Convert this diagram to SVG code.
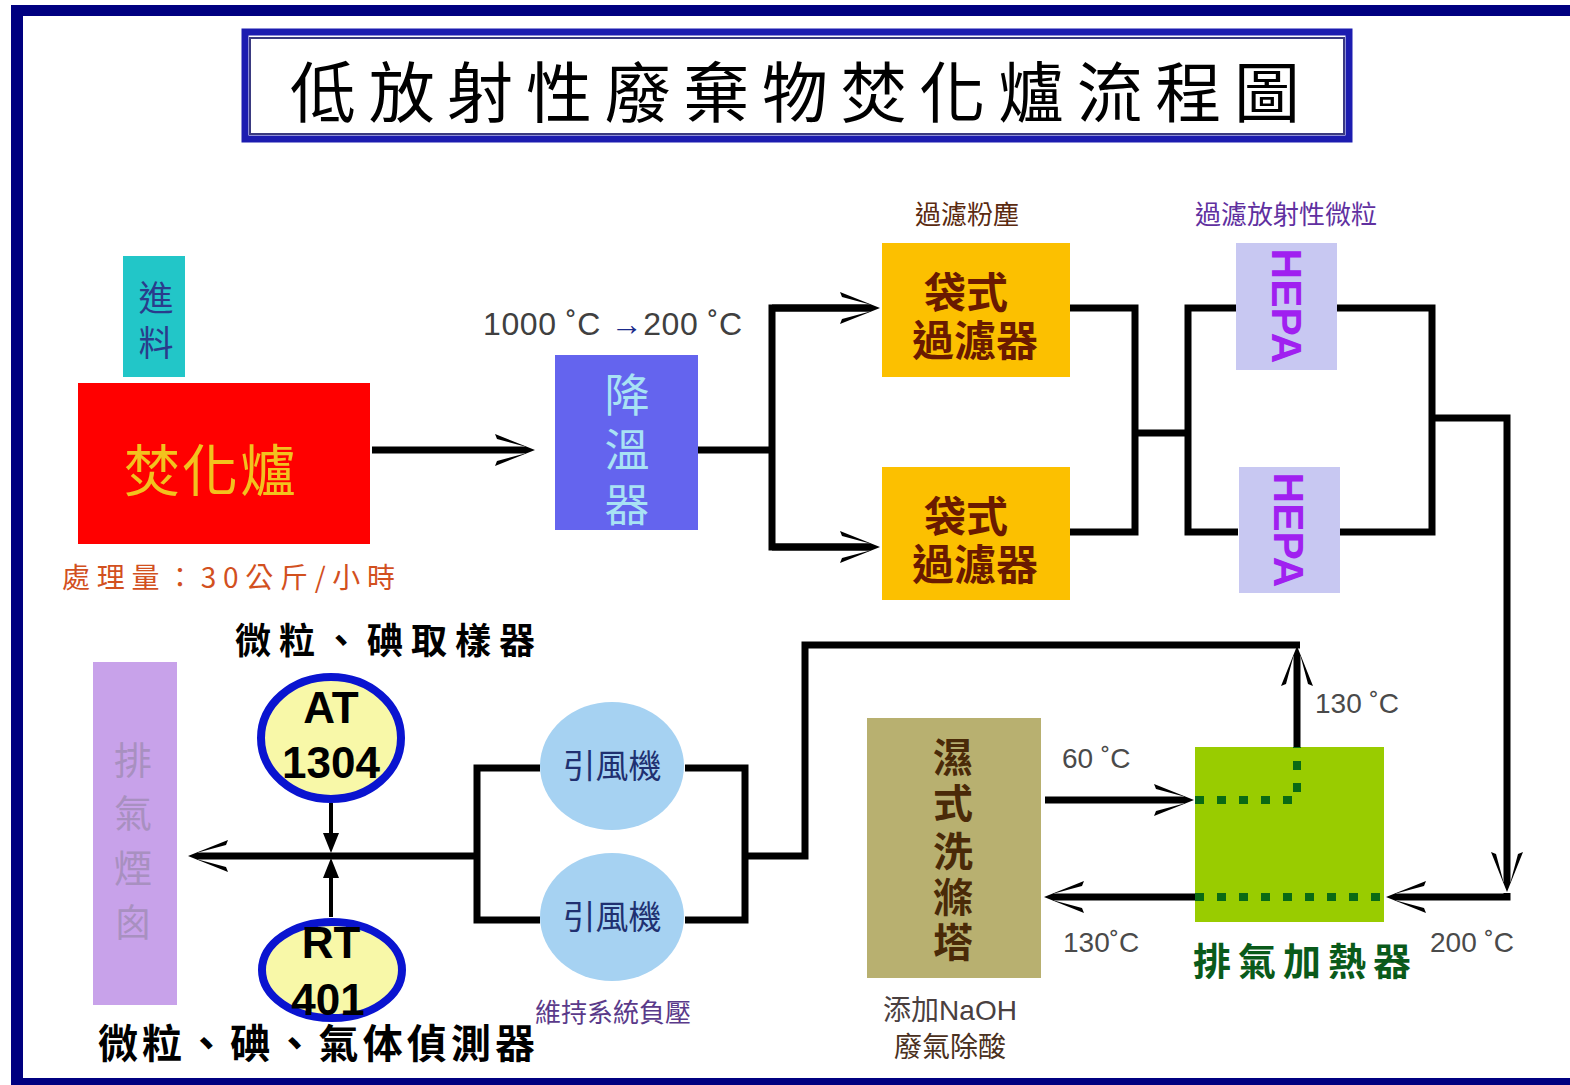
<svg xmlns="http://www.w3.org/2000/svg" width="1570" height="1085" viewBox="0 0 1570 1085">
<style>
.cjk{font-family:"Noto Sans CJK TC","Noto Sans CJK SC",sans-serif}
.lat{font-family:"Liberation Sans",Arial,sans-serif}
.mid{text-anchor:middle}
.ln{fill:none;stroke:#000;stroke-width:7;stroke-linejoin:miter}
.thin{fill:none;stroke:#000;stroke-width:4}
.dot{fill:none;stroke:#0a6a14;stroke-width:8;stroke-dasharray:9 13}
.temp{font-size:28px;fill:#4a4a4a}
</style>
<defs>
<marker id="ah" viewBox="-32 -18 44 36" refX="0" refY="0" markerWidth="44" markerHeight="36" markerUnits="userSpaceOnUse" orient="auto" overflow="visible">
<polygon points="10,0 -30,-16 -28,-11 0,-3.5 0,3.5 -28,11 -30,16" fill="#000"/>
</marker>
<marker id="sa" viewBox="-14 -10 24 20" refX="0" refY="0" markerWidth="24" markerHeight="20" markerUnits="userSpaceOnUse" orient="auto" overflow="visible">
<polygon points="8,0 -12,-8 -12,8" fill="#000"/>
</marker>
</defs>
<rect width="1570" height="1085" fill="#fff"/>
<g id="frame" fill="#000080">
<rect x="11" y="5" width="1559" height="11"/>
<rect x="11" y="5" width="12" height="1080"/>
<rect x="11" y="1078" width="1559" height="7"/>
</g>
<g id="title">
<rect x="245" y="32" width="1104" height="107" fill="none" stroke="#1c1cb0" stroke-width="7"/>
<rect x="250" y="38" width="1094" height="96" fill="none" stroke="#3a3a80" stroke-width="2"/>
<text class="cjk mid" x="795" y="117" font-size="66" textLength="1010" lengthAdjust="spacing" fill="#000">低放射性廢棄物焚化爐流程圖</text>
</g>
<g id="connectors">
<path class="ln" d="M372,450 H525" marker-end="url(#ah)"/>
<path class="ln" d="M698,450 H772"/>
<path class="ln" d="M870,308 H772 V547 H870"/>
<path class="ln" d="M772,308 H870" marker-end="url(#ah)"/>
<path class="ln" d="M772,547 H870" marker-end="url(#ah)"/>
<path class="ln" d="M1070,308 H1135 V532 H1070"/>
<path class="ln" d="M1135,433 H1188"/>
<path class="ln" d="M1236,308 H1188 V532 H1238"/>
<path class="ln" d="M1337,308 H1432 V532 H1340"/>
<path class="ln" d="M1432,418 H1507 V882" marker-end="url(#ah)"/>
<path class="ln" d="M1507,893 V897 H1396" marker-end="url(#ah)"/>
<path class="ln" d="M1195,897 H1054" marker-end="url(#ah)"/>
<path class="ln" d="M1045,800 H1184" marker-end="url(#ah)"/>
<path class="ln" d="M1297,747 V656" marker-end="url(#ah)"/>
<path class="ln" d="M1300,645 H805 V856 H745"/>
<path class="ln" d="M540,768 H477 V920 H540"/>
<path class="ln" d="M685,768 H745 V920 H685"/>
<path class="ln" d="M477,856 H198" marker-end="url(#ah)"/>
<path class="thin" d="M331,803 V845" marker-end="url(#sa)"/>
<path class="thin" d="M331,917 V866" marker-end="url(#sa)"/>
</g>
<g id="feed">
<rect x="123" y="256" width="62" height="121" fill="#22c6c8"/>
<text class="cjk mid" font-size="35" fill="#2a3c8c" x="156" y="311">進</text>
<text class="cjk mid" font-size="35" fill="#2a3c8c" x="156" y="356">料</text>
</g>
<g id="incinerator">
<rect x="78" y="383" width="292" height="161" fill="#ff0000"/>
<text class="cjk mid" x="211" y="491" font-size="56" fill="#f2c21e" letter-spacing="2">焚化爐</text>
<text class="cjk" x="62" y="588" font-size="28" fill="#d2501e" textLength="333" lengthAdjust="spacing">處理量：30公斤/小時</text>
</g>
<g id="cooler">
<text class="lat" x="483" y="335" font-size="32" letter-spacing="0.6" fill="#404040">1000 ˚C <tspan fill="#1a2a8a">→</tspan>200 ˚C</text>
<rect x="555" y="355" width="143" height="175" fill="#6464ee"/>
<text class="cjk mid" font-size="45" fill="#a8e2f4" x="627" y="412">降</text>
<text class="cjk mid" font-size="45" fill="#a8e2f4" x="627" y="467">溫</text>
<text class="cjk mid" font-size="45" fill="#a8e2f4" x="627" y="522">器</text>
</g>
<text class="cjk mid" x="967" y="224" font-size="26" fill="#5a2a10">過濾粉塵</text>
<g id="bagfilter1">
<rect x="882" y="243" width="188" height="134" fill="#fcc000"/>
<text class="cjk mid" x="966" y="308" font-size="42" font-weight="bold" fill="#6a1a00">袋式</text>
<text class="cjk mid" x="975" y="356" font-size="42" font-weight="bold" fill="#6a1a00">過濾器</text>
</g>
<g id="bagfilter2">
<rect x="882" y="467" width="188" height="133" fill="#fcc000"/>
<text class="cjk mid" x="966" y="532" font-size="42" font-weight="bold" fill="#6a1a00">袋式</text>
<text class="cjk mid" x="975" y="580" font-size="42" font-weight="bold" fill="#6a1a00">過濾器</text>
</g>
<text class="cjk mid" x="1286" y="224" font-size="26" fill="#6030a0">過濾放射性微粒</text>
<g id="hepa1">
<rect x="1236" y="243" width="101" height="127" fill="#c8c8f2"/>
<text class="lat mid" transform="translate(1287,306) rotate(90)" y="15" font-size="42" font-weight="bold" fill="#a020f0" textLength="115" lengthAdjust="spacingAndGlyphs">HEPA</text>
</g>
<g id="hepa2">
<rect x="1239" y="467" width="101" height="126" fill="#c8c8f2"/>
<text class="lat mid" transform="translate(1289,530) rotate(90)" y="15" font-size="42" font-weight="bold" fill="#a020f0" textLength="115" lengthAdjust="spacingAndGlyphs">HEPA</text>
</g>
<g id="heater">
<rect x="1195" y="747" width="189" height="175" fill="#99cc00"/>
<path class="dot" d="M1195,800 H1297 V747"/>
<path class="dot" d="M1195,897 H1384"/>
<text class="cjk" x="1193" y="975" font-size="38" font-weight="bold" fill="#0a5a1a" textLength="218" lengthAdjust="spacing">排氣加熱器</text>
<text class="lat temp" x="1315" y="713">130 ˚C</text>
<text class="lat temp" x="1430" y="952">200 ˚C</text>
</g>
<g id="scrubber">
<rect x="867" y="718" width="174" height="260" fill="#b8b070"/>
<text class="cjk mid" font-size="40" font-weight="bold" fill="#4a2a08" x="953" y="772">濕</text>
<text class="cjk mid" font-size="40" font-weight="bold" fill="#4a2a08" x="953" y="818">式</text>
<text class="cjk mid" font-size="40" font-weight="bold" fill="#4a2a08" x="953" y="866">洗</text>
<text class="cjk mid" font-size="40" font-weight="bold" fill="#4a2a08" x="953" y="912">滌</text>
<text class="cjk mid" font-size="40" font-weight="bold" fill="#4a2a08" x="953" y="957">塔</text>
<text class="cjk mid" x="950" y="1020" font-size="28" fill="#4a4040">添加<tspan class="lat">NaOH</tspan></text>
<text class="cjk mid" x="950" y="1057" font-size="28" fill="#4a3020">廢氣除酸</text>
<text class="lat temp" x="1062" y="768">60 ˚C</text>
<text class="lat temp" x="1063" y="952">130˚C</text>
</g>
<g id="fan1">
<ellipse cx="612" cy="766" rx="72" ry="64" fill="#a6d2f2"/>
<text class="cjk mid" x="612" y="778" font-size="33" fill="#203070">引風機</text>
</g>
<g id="fan2">
<ellipse cx="612" cy="917" rx="72" ry="64" fill="#a6d2f2"/>
<text class="cjk mid" x="612" y="929" font-size="33" fill="#203070">引風機</text>
<text class="cjk mid" x="613" y="1022" font-size="26" fill="#5a3a8a">維持系統負壓</text>
</g>
<g id="stack">
<rect x="93" y="662" width="84" height="343" fill="#c8a2ea"/>
<text class="cjk mid" font-size="38" fill="#a890c0" x="133" y="774">排</text>
<text class="cjk mid" font-size="38" fill="#a890c0" x="133" y="827">氣</text>
<text class="cjk mid" font-size="38" fill="#a890c0" x="133" y="882">煙</text>
<text class="cjk mid" font-size="38" fill="#a890c0" x="133" y="936">囪</text>
</g>
<g id="at1304">
<text class="cjk" x="235" y="654" font-size="36" font-weight="bold" fill="#000" textLength="300" lengthAdjust="spacing">微粒、碘取樣器</text>
<ellipse cx="331" cy="738" rx="70" ry="61" fill="#f8f8a8" stroke="#0a14d0" stroke-width="8"/>
<text class="lat mid" x="331" y="723" font-size="44" font-weight="bold" fill="#000">AT</text>
<text class="lat mid" x="331" y="778" font-size="44" font-weight="bold" fill="#000">1304</text>
</g>
<g id="rt401">
<ellipse cx="332" cy="970" rx="70" ry="48" fill="#f8f8a8" stroke="#0a14d0" stroke-width="8"/>
<text class="lat mid" x="331" y="958" font-size="44" font-weight="bold" fill="#000">RT</text>
<text class="lat mid" x="328" y="1015" font-size="44" font-weight="bold" fill="#000">401</text>
<text class="cjk" x="98" y="1058" font-size="40" font-weight="bold" fill="#000" textLength="437" lengthAdjust="spacing">微粒、碘、氣体偵測器</text>
</g>
</svg>
